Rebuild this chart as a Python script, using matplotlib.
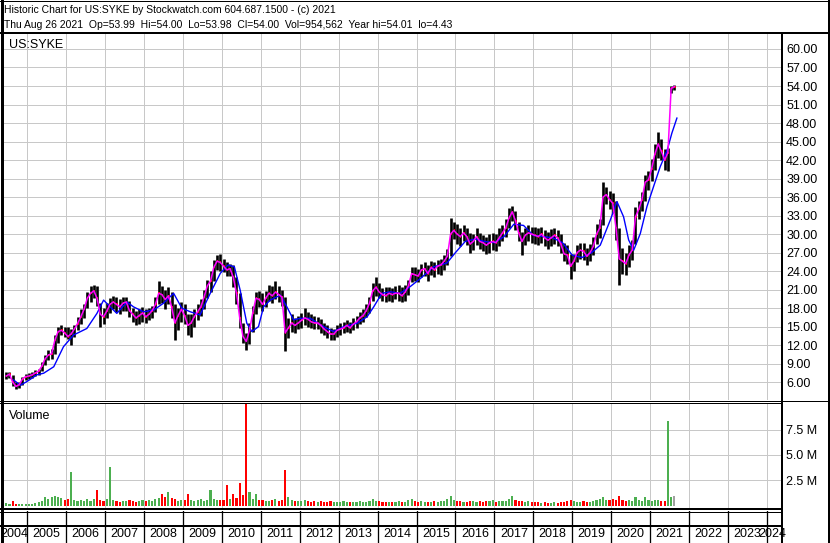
import matplotlib
matplotlib.use("Agg")
import numpy as np
import matplotlib.pyplot as plt

plt.rcParams['font.family'] = ['Liberation Sans', 'DejaVu Sans']

# monthly bars, Jun 2004 .. Aug 2021
first_month = 2004 + 5 / 12
close = [
    7.0, 7.3, 6.0, 5.3, 5.6, 6.5, 6.9,                                  # 2004
    7.0, 7.2, 7.5, 7.8, 8.6, 9.8, 10.4, 10.6, 12.8, 14.2, 14.4, 14.0,   # 2005
    13.4, 13.8, 14.6, 15.5, 16.6, 17.8, 19.6, 20.4, 20.8, 19.6, 17.0, 16.6,
    17.5, 18.6, 19.0, 18.6, 18.2, 18.8, 19.0, 17.6, 17.0, 16.4, 16.8, 17.2,
    16.6, 17.0, 17.6, 18.6, 20.4, 20.2, 19.4, 20.0, 18.2, 15.6, 16.8, 17.8,
    16.8, 15.2, 15.6, 16.6, 17.4, 18.2, 19.8, 21.6, 22.4, 24.6, 25.6, 25.4,
    24.8, 24.2, 24.4, 23.0, 20.4, 16.4, 13.4, 12.6, 14.4, 17.2, 19.6, 19.4,
    18.6, 19.6, 20.4, 20.0, 20.6, 20.2, 19.8, 14.0, 14.8, 15.6, 15.2, 15.6,
    16.0, 16.4, 16.2, 15.8, 15.6, 15.6, 15.2, 14.6, 14.2, 13.8, 13.8, 14.4,
    14.6, 14.8, 15.2, 14.8, 15.4, 15.8, 16.4, 16.8, 17.6, 18.8, 20.8, 21.4,
    20.6, 20.2, 20.0, 20.4, 20.2, 20.4, 20.4, 20.0, 20.6, 21.6, 23.6, 23.4,
    23.2, 24.2, 24.4, 23.6, 24.6, 24.2, 24.8, 25.0, 25.6, 26.4, 30.0, 30.6,
    30.0, 29.6, 30.2, 29.6, 28.4, 28.8, 29.6, 28.8, 28.6, 28.2, 28.6, 28.8,
    28.6, 29.4, 30.2, 31.0, 32.6, 33.6, 32.2, 30.2, 28.8, 29.8, 30.2, 30.0,
    29.8, 29.6, 30.0, 29.4, 29.0, 29.4, 29.8, 29.4, 28.4, 26.8, 26.6, 24.8,
    25.6, 27.0, 27.4, 27.2, 26.4, 27.0, 28.0, 30.0, 31.0, 36.0, 36.4, 35.6,
    35.0, 31.0, 26.0, 25.6, 25.2, 26.6, 27.4, 32.8, 34.0, 35.6, 38.4, 38.8,
    40.6, 43.0, 44.6, 43.4, 42.0, 43.2, 53.6, 53.9,                     # 2021
]
high = [
    7.6, 7.7, 7.2, 6.0, 6.1, 6.9, 7.3,
    7.5, 7.6, 7.9, 8.2, 9.2, 10.4, 11.2, 11.4, 13.6, 15.0, 15.2, 15.0,
    15.0, 14.6, 15.2, 16.5, 17.8, 18.6, 20.6, 21.6, 21.8, 21.6, 18.8, 18.0,
    18.8, 19.6, 20.0, 19.8, 19.4, 19.8, 19.8, 19.2, 18.0, 17.6, 17.8, 18.2,
    17.8, 18.0, 18.4, 19.8, 22.4, 21.6, 21.0, 21.4, 20.6, 18.6, 18.0, 19.0,
    18.6, 17.0, 17.0, 17.8, 18.6, 19.4, 21.0, 22.6, 24.0, 25.8, 26.6, 26.8,
    26.0, 25.4, 25.2, 25.0, 23.0, 20.4, 15.6, 14.0, 15.6, 18.4, 20.6, 20.8,
    20.4, 20.8, 21.8, 21.6, 22.4, 21.6, 21.0, 19.8, 16.4, 17.0, 16.4, 16.8,
    17.2, 18.0, 17.4, 17.0, 16.8, 16.6, 16.2, 15.6, 15.2, 14.8, 14.6, 15.2,
    15.6, 15.8, 16.0, 15.8, 16.4, 16.8, 17.4, 17.8, 18.6, 19.8, 22.0, 23.0,
    22.0, 21.2, 21.4, 21.4, 21.2, 21.6, 21.8, 21.4, 21.8, 22.6, 24.6, 24.6,
    24.4, 25.2, 25.4, 25.0, 25.6, 25.4, 25.8, 26.0, 26.6, 27.6, 32.6, 32.0,
    31.6, 31.0, 31.4, 31.0, 30.2, 30.0, 31.0, 30.2, 29.8, 29.6, 30.0, 30.2,
    30.0, 31.0, 31.4, 32.4, 34.2, 34.6, 33.8, 32.0, 30.4, 31.0, 31.4, 31.2,
    31.2, 31.0, 31.2, 30.6, 30.4, 30.8, 31.0, 30.6, 30.0, 28.6, 28.2, 26.8,
    26.8, 28.2, 28.6, 28.6, 27.8, 28.4, 29.6, 31.6, 32.4, 38.4, 37.6, 37.0,
    36.6, 35.4, 31.0, 27.8, 27.0, 28.2, 29.0, 34.4, 35.4, 36.8, 39.6, 40.2,
    42.2, 44.6, 46.6, 45.4, 43.8, 44.0, 54.0, 54.2,
]
low = [
    6.5, 6.6, 5.4, 4.9, 5.0, 5.5, 6.3,
    6.5, 6.7, 7.0, 7.2, 7.8, 8.8, 9.6, 9.8, 10.6, 12.4, 13.6, 13.4,
    13.0, 12.0, 13.4, 14.5, 15.4, 16.4, 18.0, 19.0, 19.6, 18.4, 15.0, 15.4,
    16.4, 17.2, 17.8, 17.4, 17.0, 17.6, 17.6, 16.6, 15.8, 15.2, 15.4, 15.8,
    15.6, 16.0, 16.4, 17.4, 18.6, 18.8, 17.8, 18.6, 16.4, 12.8, 14.4, 15.8,
    15.4, 13.6, 13.4, 15.0, 16.0, 16.8, 17.8, 19.6, 20.6, 22.4, 24.2, 24.0,
    23.8, 23.2, 23.2, 21.4, 18.6, 14.8, 12.4, 11.2, 12.2, 14.2, 17.0, 18.2,
    17.6, 18.2, 19.2, 18.8, 19.4, 19.0, 18.4, 11.0, 13.2, 14.2, 14.0, 14.6,
    14.8, 15.2, 15.0, 14.8, 14.6, 14.6, 14.0, 13.6, 13.2, 12.8, 12.8, 13.4,
    13.6, 14.0, 14.2, 14.0, 14.4, 14.8, 15.4, 15.8, 16.6, 17.2, 19.2, 20.0,
    19.6, 19.2, 19.0, 19.2, 19.0, 19.4, 19.2, 19.0, 19.2, 20.2, 22.2, 22.4,
    22.2, 23.0, 23.2, 22.4, 23.4, 23.0, 23.6, 23.4, 24.2, 25.0, 26.4, 29.2,
    28.4, 28.0, 28.8, 28.2, 27.0, 27.4, 28.2, 27.6, 27.2, 26.8, 27.0, 27.4,
    27.2, 28.0, 28.8, 29.6, 31.0, 32.2, 30.6, 28.8, 26.6, 28.2, 28.8, 28.6,
    28.4, 28.2, 28.6, 28.0, 27.6, 28.0, 28.4, 28.0, 27.0, 25.6, 25.2, 22.8,
    24.0, 25.4, 26.0, 25.8, 25.0, 25.6, 26.6, 28.4, 29.4, 31.4, 34.8, 34.0,
    33.4, 29.0, 21.8, 23.6, 23.4, 24.6, 25.8, 28.4, 32.4, 33.8, 35.4, 37.2,
    38.6, 40.4, 42.4, 42.0, 40.4, 40.2, 52.8, 53.4,
]
volume_m = [
    0.25, 0.2, 0.45, 0.2, 0.15, 0.15, 0.2,
    0.2, 0.2, 0.3, 0.35, 0.5, 0.9, 0.7, 0.9, 1.0, 0.9, 0.8, 0.6,
    0.7, 3.3, 0.6, 0.5, 0.6, 0.5, 0.7, 0.5, 0.7, 1.6, 0.6, 0.5,
    0.7, 3.8, 0.6, 0.5, 0.4, 0.5, 0.5, 0.6, 0.5, 0.4, 0.5, 0.6,
    0.5, 0.6, 0.5, 0.7, 0.8, 1.2, 0.9, 1.4, 0.8, 0.7, 0.5, 0.6,
    0.6, 1.2, 0.6, 0.5, 0.6, 0.7, 0.5, 0.6, 1.6, 0.7, 0.6, 0.6,
    0.6, 2.1, 0.7, 1.2, 0.8, 2.3, 1.1, 10.5, 1.4, 0.7, 1.2, 0.6,
    0.6, 0.5, 0.5, 0.6, 0.7, 0.5, 0.6, 3.5, 0.9, 0.6, 0.5, 0.5,
    0.5, 0.6, 0.5, 0.4, 0.5, 0.4, 0.5, 0.4, 0.4, 0.5, 0.4, 0.4,
    0.4, 0.5, 0.4, 0.4, 0.4, 0.4, 0.5, 0.4, 0.4, 0.5, 0.7, 0.5,
    0.5, 0.4, 0.4, 0.4, 0.4, 0.4, 0.5, 0.4, 0.4, 0.6, 0.7, 0.5,
    0.4, 0.5, 0.4, 0.4, 0.4, 0.5, 0.4, 0.5, 0.5, 0.7, 1.0, 0.6,
    0.5, 0.5, 0.4, 0.4, 0.5, 0.5, 0.4, 0.5, 0.4, 0.5, 0.5, 0.6,
    0.4, 0.5, 0.5, 0.5, 0.7, 1.0, 0.6, 0.5, 0.5, 0.4, 0.5, 0.4,
    0.4, 0.4, 0.3, 0.4, 0.3, 0.3, 0.4, 0.3, 0.4, 0.4, 0.5, 0.6,
    0.5, 0.4, 0.4, 0.5, 0.4, 0.4, 0.5, 0.6, 0.7, 0.9, 0.6, 0.6,
    0.7, 0.6, 1.0, 0.6, 0.5, 0.6, 0.5, 0.9, 0.6, 0.5, 0.9, 0.6,
    0.5, 0.6, 0.6, 0.5, 0.5, 8.3, 0.9, 1.0,
]
# long moving average (blue)
ma_long_t = [2004.65, 2004.82, 2004.99, 2005.25, 2005.42, 2005.68, 2005.93, 2006.19,
             2006.53, 2006.79, 2006.96, 2007.13, 2007.30, 2007.56, 2007.73, 2007.99,
             2008.25, 2008.50, 2008.76, 2008.97, 2009.19, 2009.44, 2009.70, 2009.96,
             2010.16, 2010.32, 2010.47, 2010.64, 2010.77, 2010.94, 2011.07, 2011.24,
             2011.50, 2011.67, 2011.84, 2012.01, 2012.27, 2012.61, 2012.87, 2013.13,
             2013.47, 2013.73, 2013.90, 2014.11, 2014.33, 2014.58, 2014.84, 2015.10,
             2015.44, 2015.78, 2016.00, 2016.25, 2016.50, 2016.75, 2017.00, 2017.25,
             2017.50, 2017.75, 2018.00, 2018.25, 2018.50, 2018.75, 2019.00, 2019.25,
             2019.50, 2019.72, 2019.98, 2020.15, 2020.32, 2020.45, 2020.58, 2020.75,
             2020.92, 2021.09, 2021.26, 2021.44, 2021.56, 2021.69]
ma_long_v = [6.35, 5.5, 6.1, 7.2, 7.45, 8.5, 11.75, 13.65,
             14.7, 17.15, 19.3, 18.2, 17.15, 19.0, 18.2, 17.4,
             17.7, 18.8, 20.4, 18.0, 17.4, 16.9, 20.4, 23.65,
             25.0, 24.7, 20.9, 15.55, 14.2, 15.0, 18.2, 19.3,
             20.1, 18.2, 16.1, 16.35, 16.35, 15.0, 14.2, 15.0,
             15.55, 16.6, 18.2, 20.4, 20.65, 20.4, 21.5, 22.8,
             24.7, 25.3, 27.0, 28.8, 29.2, 28.8, 28.6, 29.6,
             31.6, 31.4, 29.8, 29.6, 29.4, 28.6, 26.6, 26.2,
             27.0, 28.2, 32.3, 35.25, 32.8, 29.05, 27.4, 30.1,
             34.45, 37.7, 40.9, 43.6, 46.35, 48.8]

years = list(range(2004, 2025))
price_ticks = [6, 9, 12, 15, 18, 21, 24, 27, 30, 33, 36, 39, 42, 45, 48, 51, 54, 57, 60]
vol_ticks = [2.5, 5.0, 7.5]
vol_tick_labels = ['2.5 M', '5.0 M', '7.5 M']

header1 = "Historic Chart for US:SYKE by Stockwatch.com 604.687.1500 - (c) 2021"
header2 = ("Thu Aug 26 2021  Op=53.99  Hi=54.00  Lo=53.98  Cl=54.00  "
           "Vol=954,562  Year hi=54.01  lo=4.43")

W, H = 830, 543
GRID = '#c8c8c8'
PX = 0.72  # one pixel in points
fig = plt.figure(figsize=(W / 100, H / 100), dpi=100)


def px_axes(x0, y0, x1, y1):
    return fig.add_axes([x0 / W, 1 - y1 / H, (x1 - x0) / W, (y1 - y0) / H])


xlim = (2004.376, 2024.39)
t = first_month + 1 / 24 + np.arange(len(close)) / 12
close = np.array(close)

# price panel
ax = px_axes(3, 33, 782, 400)
ax.set_xlim(*xlim)
ax.set_ylim(3.11, 62.59)
ax.set_xticks(years[1:])
ax.set_yticks(price_ticks)
ax.set_yticklabels(['%.2f' % v for v in price_ticks])
ax.yaxis.tick_right()
ax.tick_params(axis='both', length=0, labelsize=9, pad=3)
ax.tick_params(axis='x', labelbottom=False)
ax.grid(True, color=GRID, lw=PX)
ax.set_axisbelow(True)
for s in ax.spines.values():
    s.set_visible(False)
ax.vlines(t, low, high, color='black', lw=1.9)
ax.hlines(close, t - 0.005, t + 0.03, color='red', lw=1.3)
ax.plot(ma_long_t, ma_long_v, color='#0000ff', lw=1.0)
ax.plot(t, close, color='#ff00ff', lw=1.1)
ax.text(0.008, 0.985, 'US:SYKE', transform=ax.transAxes, fontsize=9,
        ha='left', va='top')

# volume panel
axv = px_axes(3, 403, 782, 508)
axv.set_xlim(*xlim)
axv.set_ylim(-0.2, 10.1)
axv.set_xticks(years[1:])
axv.set_yticks(vol_ticks)
axv.set_yticklabels(vol_tick_labels)
axv.yaxis.tick_right()
axv.tick_params(axis='both', length=0, labelsize=9, pad=3)
axv.tick_params(axis='x', labelbottom=False)
axv.grid(True, color=GRID, lw=PX)
axv.set_axisbelow(True)
for s in axv.spines.values():
    s.set_visible(False)
prev = np.concatenate([[close[0]], close[:-1]])
vcol = np.where(close >= prev, '#4caf50', '#ff0000').tolist()
vcol[-1] = '#a0a0a0'
axv.bar(t, volume_m, width=0.055, color=vcol, linewidth=0)
axv.text(0.008, 0.93, 'Volume', transform=axv.transAxes, fontsize=9,
         ha='left', va='top')

# year row
axr = px_axes(3, 511, 782, 543)
axr.set_xlim(*xlim)
axr.set_ylim(0, 1)
axr.axis('off')
for y in years[1:]:
    axr.axvline(y, color='black', lw=1.3 * PX)
for y in years:
    if y == years[0]:
        axr.text(2004.30, 0.27, str(y), ha='left', va='center', fontsize=9, clip_on=False)
    elif y == years[-1]:
        axr.text(2024.5, 0.27, str(y), ha='right', va='center', fontsize=9, clip_on=False)
    else:
        axr.text(y + 0.5, 0.27, str(y), ha='center', va='center', fontsize=9)

# frame and separators in pixel space
ov = fig.add_axes([0, 0, 1, 1])
ov.set_xlim(0, W)
ov.set_ylim(H, 0)
ov.axis('off')
ov.patch.set_alpha(0)
ov.set_zorder(10)
ov.plot([1.5, 1.5], [0, H], color='black', lw=3 * PX)
ov.plot([828.5, 828.5], [0, H], color='black', lw=2 * PX)
ov.plot([0, W], [0.5, 0.5], color='black', lw=PX)
ov.plot([0, W], [542.5, 542.5], color='black', lw=PX)
ov.plot([0, W], [33, 33], color='black', lw=2 * PX)
ov.plot([782, 782], [33, H], color='black', lw=2 * PX)
ov.plot([0, W], [400.5, 400.5], color='black', lw=PX)
ov.plot([0, 782], [402.5, 402.5], color='black', lw=PX)
ov.plot([0, 782], [508.5, 508.5], color='black', lw=2 * PX)
ov.plot([0, 782], [511.5, 511.5], color='black', lw=PX)
ov.plot([0, 782], [526, 526], color='black', lw=2 * PX)
ov.text(4, 10, header1, fontsize=7.5, ha='left', va='center')
ov.text(4, 25, header2, fontsize=7.5, ha='left', va='center')

fig.savefig('out.png', dpi=100)
